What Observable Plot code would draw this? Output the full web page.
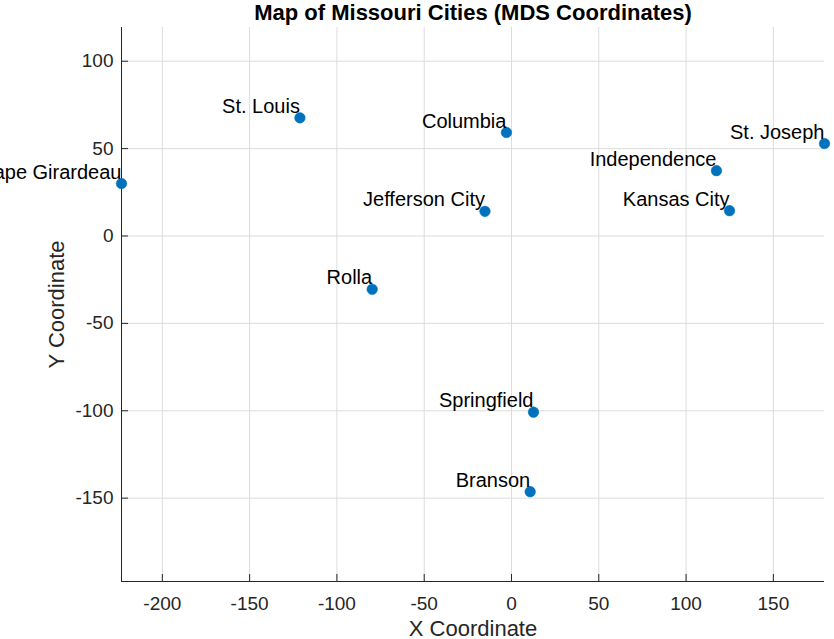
<!DOCTYPE html>
<html><head><meta charset="utf-8">
<script src="https://cdn.jsdelivr.net/npm/d3@7"></script>
<script src="https://cdn.jsdelivr.net/npm/@observablehq/plot@0.6"></script>
<style>body{margin:0;background:#fff} svg{display:block}</style>
</head><body><div id="chart"></div>
<script>
const cities = ["St. Louis","Columbia","St. Joseph","Independence","Cape Girardeau","Jefferson City","Kansas City","Rolla","Springfield","Branson"];
const xs = [-121.2, -2.9, 179.3, 117.4, -223.4, -15.2, 124.9, -79.8, 12.6, 10.7];
const ys = [67.6, 59.2, 52.9, 37.4, 30.0, 14.1, 14.5, -30.5, -100.8, -146.3];
const xTicks = [-200, -150, -100, -50, 0, 50, 100, 150];
const yTicks = [-150, -100, -50, 0, 50, 100];
const yLimits = [-197.7, 119.3];
const titleText = "Map of Missouri Cities (MDS Coordinates)";
const xLabel = "X Coordinate";
const yLabel = "Y Coordinate";

const data = cities.map((c, i) => ({city: c, x: xs[i], y: ys[i]}));
const W = 834, H = 639, mL = 121, mR = 10, mT = 27, mB = 58;
const frameW = W - mL - mR, frameH = H - mT - mB;
const font = "'Liberation Sans', Arial, Helvetica, sans-serif";
const fmt = d => String(d);

const plot = Plot.plot({
  width: W, height: H,
  marginLeft: mL, marginRight: mR, marginTop: mT, marginBottom: mB,
  style: {fontFamily: font, background: "#fff", overflow: "visible"},
  x: {domain: d3.extent(xs)},
  y: {domain: yLimits},
  marks: [
    Plot.gridX(xTicks, {stroke: "#dcdcdc", strokeOpacity: 1}),
    Plot.gridY(yTicks, {stroke: "#dcdcdc", strokeOpacity: 1}),
    Plot.tickX(xTicks, {x: d => d, stroke: "#262626", insetTop: frameH - 7}),
    Plot.tickY(yTicks, {y: d => d, stroke: "#262626", insetRight: frameW - 7}),
    Plot.ruleX([d3.min(xs)], {stroke: "#262626"}),
    Plot.ruleY([yLimits[0]], {stroke: "#262626"}),
    Plot.axisX(xTicks, {tickSize: 0, tickPadding: 15, fontSize: 19, fill: "#262626", label: null, tickFormat: fmt}),
    Plot.axisY(yTicks, {tickSize: 0, tickPadding: 8, fontSize: 19, fill: "#262626", label: null, tickFormat: fmt}),
    Plot.dot(data, {x: "x", y: "y", r: 5.3, fill: "#0072BD", stroke: "#0072BD", strokeWidth: 0.5}),
    Plot.text(data, {x: "x", y: "y", text: "city", textAnchor: "end", lineAnchor: "bottom", dy: -5, fontSize: 20, fill: "#000"}),
    Plot.text([titleText], {text: d => d, frameAnchor: "top", dy: -15, textAnchor: "middle", lineAnchor: "middle", fontSize: 22, fontWeight: "bold", fill: "#000"}),
    Plot.text([xLabel], {text: d => d, frameAnchor: "bottom", dy: 47, textAnchor: "middle", lineAnchor: "middle", fontSize: 22, fill: "#262626"}),
    Plot.text([yLabel], {text: d => d, frameAnchor: "left", dx: -65, rotate: -90, textAnchor: "middle", lineAnchor: "middle", fontSize: 22, fill: "#262626"})
  ]
});
document.getElementById("chart").append(plot);
</script>
</body></html>
